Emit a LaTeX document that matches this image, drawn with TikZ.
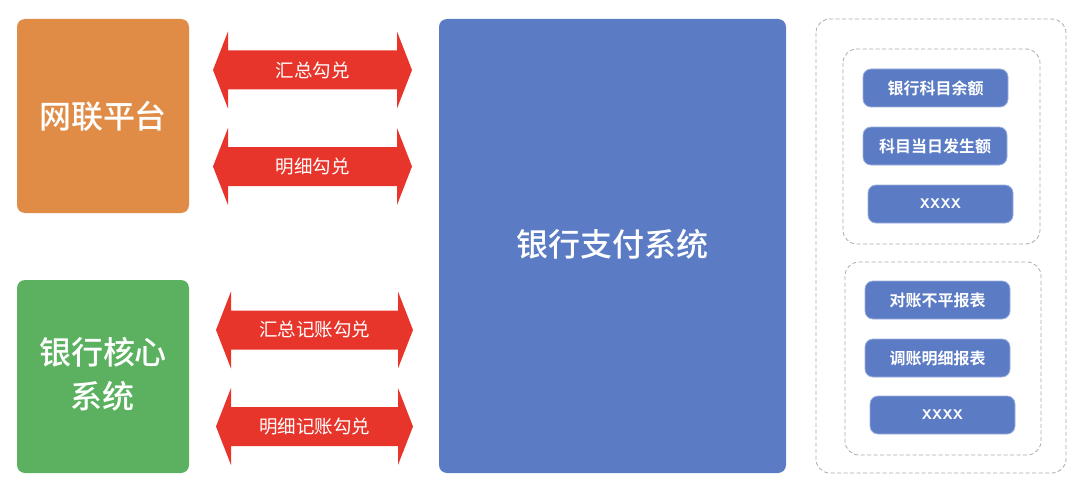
\documentclass[tikz,border=0pt]{standalone}
\usepackage{fontspec}
\newfontfamily\cjk{Noto Sans CJK SC}[BoldFont={Noto Sans CJK SC Bold}]
\newfontfamily\cjkmed{Noto Sans CJK SC Medium}
\definecolor{orangebox}{HTML}{E08C47}
\definecolor{greenbox}{HTML}{5BB160}
\definecolor{bluebox}{HTML}{5B7BC4}
\definecolor{pillborder}{HTML}{9AB0DE}
\definecolor{redarrow}{HTML}{E8352B}
\definecolor{dashgray}{HTML}{ABABAB}
\newcommand{\twoarrow}[3]{%
  \fill[redarrow] (#1,#3) -- (#1+15,#3-38.5) -- (#1+15,#3-19.5) -- (#2-15,#3-19.5) -- (#2-15,#3-38.5) -- (#2,#3)
   -- (#2-15,#3+38.5) -- (#2-15,#3+19.5) -- (#1+15,#3+19.5) -- (#1+15,#3+38.5) -- cycle;}
\begin{document}
\begin{tikzpicture}[x=1pt,y=-1pt,
  bigbox/.style={rounded corners=8pt,text=white,font=\cjkmed\fontsize{32}{44}\selectfont,align=center},
  pill/.style={fill=bluebox,draw=pillborder,line width=0.8pt,rounded corners=8pt,text=white,font=\cjk\bfseries\fontsize{16}{19}\selectfont},
  dashframe/.style={draw=dashgray,dash pattern=on 4pt off 2.5pt,line width=0.8pt,rounded corners=14pt},
  arrowlabel/.style={text=white,font=\cjk\fontsize{18.5}{22}\selectfont}]
\useasboundingbox (0,0) rectangle (1080,487);
% big boxes
\fill[orangebox,rounded corners=8pt] (17,19) rectangle (189,213);
\node[bigbox] (wl) at (103,116) {网联平台};
\fill[greenbox,rounded corners=8pt] (17,280) rectangle (189,473);
\node[bigbox] (hx) at (103,374) {银行核心\\系统};
\fill[bluebox,rounded corners=8pt] (439,19) rectangle (786,473);
\node[bigbox] (zf) at (612.5,244) {银行支付系统};
% arrows
\twoarrow{213}{412}{70}
\node[arrowlabel] (a1) at (312.5,70) {汇总勾兑};
\twoarrow{213}{412}{166.5}
\node[arrowlabel] (a2) at (312.5,166.5) {明细勾兑};
\twoarrow{216}{413}{330}
\node[arrowlabel] (a3) at (314.5,330) {汇总记账勾兑};
\twoarrow{216}{413}{426.5}
\node[arrowlabel] (a4) at (314.5,426.5) {明细记账勾兑};
% dashed frames
\draw[dashframe] (816,19) rectangle (1066,473);
\draw[dashframe] (843,49) rectangle (1040,244);
\draw[dashframe] (845,262) rectangle (1041,455);
% pills
\node[pill,minimum width=145pt,minimum height=38pt] (p1) at (935.5,88) {银行科目余额};
\node[pill,minimum width=144pt,minimum height=38pt] (p2) at (935,146) {科目当日发生额};
\node[pill,minimum width=145pt,minimum height=38pt,font=\sffamily\bfseries\fontsize{14}{16}\selectfont] (p3) at (940.5,204) {XXXX};
\node[pill,minimum width=145pt,minimum height=38pt] (p4) at (937.5,300) {对账不平报表};
\node[pill,minimum width=145pt,minimum height=38pt] (p5) at (937.5,358) {调账明细报表};
\node[pill,minimum width=145pt,minimum height=38pt,font=\sffamily\bfseries\fontsize{14}{16}\selectfont] (p6) at (942.5,415) {XXXX};
\end{tikzpicture}
\end{document}
